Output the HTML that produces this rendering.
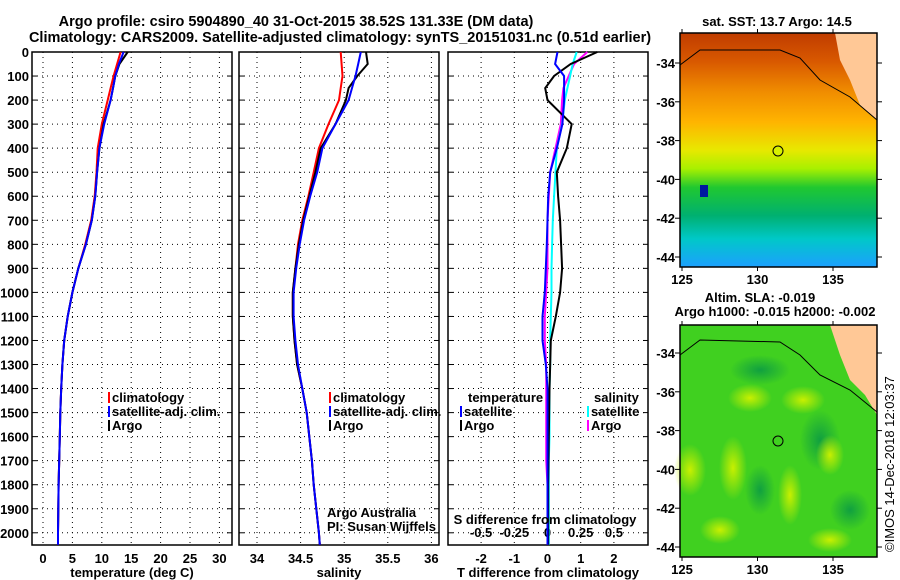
<!DOCTYPE html>
<html><head><meta charset="utf-8"><style>
body{margin:0;background:#fff;}
svg{display:block;font-family:"Liberation Sans",sans-serif;}
.b{font-weight:bold;font-size:13px;}
.t{font-weight:bold;font-size:14.5px;}
</style></head><body>
<svg id="c" width="900" height="580" viewBox="0 0 900 580" xmlns="http://www.w3.org/2000/svg">
<defs>
<linearGradient id="sst" x1="0" y1="0" x2="0" y2="1">
<stop offset="0" stop-color="#c03c00"/><stop offset="0.12" stop-color="#d85800"/><stop offset="0.25" stop-color="#f08c00"/><stop offset="0.38" stop-color="#ffb400"/><stop offset="0.5" stop-color="#e8e800"/><stop offset="0.58" stop-color="#a8f000"/><stop offset="0.66" stop-color="#20c830"/><stop offset="0.78" stop-color="#00b070"/><stop offset="0.88" stop-color="#00c8c8"/><stop offset="1" stop-color="#1ca0ff"/>
</linearGradient>
<radialGradient id="blob"><stop offset="0" stop-color="#c8f000"/><stop offset="1" stop-color="#c8f000" stop-opacity="0"/></radialGradient>
<radialGradient id="dblob"><stop offset="0" stop-color="#10a040"/><stop offset="1" stop-color="#10a040" stop-opacity="0"/></radialGradient>
</defs>
<g id="titles">
<text x="296" y="26" text-anchor="middle" class="t">Argo profile: csiro 5904890_40 31-Oct-2015 38.52S 131.33E (DM data)</text>
<text x="340" y="42" text-anchor="middle" class="t">Climatology: CARS2009. Satellite-adjusted climatology: synTS_20151031.nc (0.51d earlier)</text>
</g>
<g id="panels"></g>
<g id="maps">
<rect x="680" y="33" width="197" height="234" fill="url(#sst)"/>
<path d="M835,33 L877,33 L877,120 L860,105 L850,80 L840,60 Z" fill="#ffc896"/>
<path d="M865,95 L877,90 L877,110 L862,105 Z" fill="#ffc896"/>
<path d="M680,65 L700,50 L780,50 L800,58 L820,80 L850,97 L877,120" fill="none" stroke="#000" stroke-width="1"/>
<rect x="700" y="185" width="8" height="12" fill="#0018a0"/>
<circle cx="778" cy="151" r="5" fill="#d8f000" stroke="#000"/>
<rect x="680" y="325" width="197" height="232" fill="#40d020"/>
<ellipse cx="760" cy="370" rx="30" ry="15" fill="url(#dblob)"/><ellipse cx="820" cy="440" rx="20" ry="30" fill="url(#dblob)"/><ellipse cx="760" cy="490" rx="15" ry="25" fill="url(#dblob)"/><ellipse cx="850" cy="510" rx="20" ry="20" fill="url(#dblob)"/>
<ellipse cx="750" cy="398" rx="22" ry="14" fill="url(#blob)"/><ellipse cx="803" cy="400" rx="22" ry="14" fill="url(#blob)"/>
<ellipse cx="733" cy="468" rx="14" ry="32" fill="url(#blob)"/><ellipse cx="830" cy="455" rx="14" ry="20" fill="url(#blob)"/>
<ellipse cx="690" cy="470" rx="16" ry="26" fill="url(#blob)"/><ellipse cx="790" cy="495" rx="12" ry="30" fill="url(#blob)"/>
<ellipse cx="720" cy="530" rx="20" ry="14" fill="url(#blob)"/><ellipse cx="830" cy="540" rx="22" ry="12" fill="url(#blob)"/>
<path d="M830,325 L877,325 L877,415 L865,395 L850,380 L840,355 Z" fill="#ffc896"/>
<path d="M680,355 L700,340 L780,342 L800,355 L820,375 L850,390 L877,412" fill="none" stroke="#000"/>
<circle cx="778" cy="441" r="5" fill="none" stroke="#000"/>
<text x="777" y="26" text-anchor="middle" class="b">sat. SST: 13.7 Argo: 14.5</text>
<text x="760" y="302" text-anchor="middle" class="b">Altim. SLA: -0.019</text>
<text x="775" y="316" text-anchor="middle" class="b">Argo h1000: -0.015 h2000: -0.002</text>
<text transform="translate(894,552) rotate(-90)" font-size="13">©IMOS 14-Dec-2018 12:03:37</text>
</g>
</svg>
<script>
const depths=[0,50,100,150,200,300,400,500,600,700,800,900,1000,1100,1200,1300,1400,1500,1600,1700,1800,1900,2000,2050];
const tempArgo=[14.4,13.0,12.3,11.9,11.5,10.3,9.6,9.2,8.9,8.3,7.3,6.0,5.0,4.2,3.6,3.3,3.1,2.95,2.85,2.75,2.65,2.6,2.55,2.55];
const tempClim=[13.2,12.6,12.0,11.5,11.0,10.0,9.3,9.1,8.8,8.2,7.2,6.0,5.0,4.2,3.6,3.3,3.1,2.95,2.85,2.75,2.65,2.6,2.55,2.55];
const tempSat=[13.7,12.9,12.3,11.9,11.5,10.4,9.6,9.2,8.9,8.3,7.3,6.0,5.0,4.2,3.6,3.3,3.1,2.95,2.85,2.75,2.65,2.6,2.55,2.55];
const salArgo=[35.25,35.27,35.15,35.05,35.02,34.9,34.73,34.67,34.6,34.53,34.48,34.44,34.41,34.41,34.43,34.46,34.52,34.57,34.6,34.63,34.65,34.68,34.71,34.72];
const salClim=[34.96,34.97,34.98,34.96,34.94,34.82,34.71,34.65,34.59,34.52,34.47,34.44,34.41,34.41,34.43,34.46,34.52,34.57,34.6,34.63,34.65,34.68,34.71,34.72];
const salSat=[35.19,35.16,35.13,35.09,35.05,34.9,34.75,34.69,34.61,34.54,34.49,34.45,34.42,34.42,34.44,34.47,34.52,34.57,34.6,34.63,34.65,34.68,34.71,34.72];
const dTArgo=[1.5,0.7,0.2,-0.07,0.0,0.73,0.58,0.28,0.32,0.38,0.41,0.44,0.38,0.25,0.1,0.08,0.06,0.05,0.04,0.03,0.02,0.02,0.02,0.02];
const dTSat=[0.3,0.23,0.5,0.5,0.5,0.45,0.28,0.08,0.02,0.0,-0.02,-0.05,-0.08,-0.15,-0.15,-0.05,0,0,0,0,0,0,0,0];
const dSArgo=[0.3,0.2,0.16,0.12,0.11,0.1,0.06,0.02,0.01,0.0,0.0,0.0,-0.01,-0.02,-0.02,-0.01,-0.01,-0.01,-0.01,-0.01,0,0,0,0];
const dSSat=[0.22,0.19,0.17,0.15,0.13,0.11,0.07,0.06,0.05,0.04,0.035,0.03,0.03,0.025,0.02,0.02,0.015,0.015,0.015,0.01,0.01,0.01,0.01,0.01];
const depthTicks=[0,100,200,300,400,500,600,700,800,900,1000,1100,1200,1300,1400,1500,1600,1700,1800,1900,2000];
const tempTicks=[0,5,10,15,20,25,30];
const salTicks=[34,34.5,35,35.5,36];
const dTTicks=[-2,-1,0,1,2];
const dSTicks=["-0.5","-0.25","0","0.25","0.5"];
const latTicks=[-34,-36,-38,-40,-42,-44];
const lonTicks=[125,130,135];

const NS='http://www.w3.org/2000/svg';
const svg=document.getElementById('c');
const G=document.getElementById('panels');
function el(t,a,p){const e=document.createElementNS(NS,t);for(const k in a)e.setAttribute(k,a[k]);(p||G).appendChild(e);return e;}
const Y0=52,PY=0.2404,YB=545;
const yD=d=>Y0+d*PY;
const xT=v=>43+v*5.88;
const xS=v=>257+(v-34)*87.2;
const xDT=v=>547.5+v*33.2;
const xDS=v=>547.5+v*132.8;

function frame(x0,x1,name){
  const r=el('rect',{x:x0,y:Y0,width:x1-x0,height:YB-Y0,fill:'none',stroke:'#000','stroke-width':1.5});
  
  
  depthTicks.forEach(d=>{
    el('line',{x1:x0,x2:x1,y1:yD(d),y2:yD(d),stroke:'#000','stroke-dasharray':'1 4'});
    el('line',{x1:x0,x2:x0+5,y1:yD(d),y2:yD(d),stroke:'#000'});
    el('line',{x1:x1-5,x2:x1,y1:yD(d),y2:yD(d),stroke:'#000'});
  });
}
function vgrid(ticks,fx,labels,ly,name){
  ticks.forEach((t,i)=>{
    const x=fx(t);
    el('line',{x1:x,x2:x,y1:Y0,y2:YB,stroke:'#000','stroke-dasharray':'1 4'});
    if(ly){const tx=el('text',{x:x,y:ly,'text-anchor':'middle',class:'b'});tx.textContent=labels[i];
      
      }
  });
}
function line(vals,fx,color,name){
  const pts=vals.map((v,i)=>fx(v).toFixed(1)+','+yD(depths[i]).toFixed(1)).join(' ');
  const p=el('polyline',{points:pts,fill:'none',stroke:color,'stroke-width':2});
  
  
}
function txt(x,y,s,name,cls,anchor){const t=el('text',{x:x,y:y,class:cls||'b','text-anchor':anchor||'start'});t.textContent=s;
  
  return t;}
function leg(x,y,c,s,name){el('rect',{x:x,y:y-10,width:2,height:11,fill:c});txt(x+4,y,s,name);}

frame(32,232,'temperature-panel');
vgrid(tempTicks,xT,tempTicks,563,'temperature-tick');
depthTicks.forEach(d=>{txt(29,yD(d)+5,d,'depth-tick','b','end');});
line(tempClim,xT,'#ff0000','temp-climatology-line');
line(tempArgo,xT,'#000','temp-argo-line');
line(tempSat,xT,'#0000ff','temp-satellite-line');
txt(132,577,'temperature (deg C)','temperature-axis-title','b','middle');
leg(108,402,'#ff0000','climatology','legend-climatology');
leg(108,416,'#0000ff','satellite-adj. clim.','legend-satellite');
leg(108,430,'#000','Argo','legend-argo');

frame(239,439,'salinity-panel');
vgrid(salTicks,xS,salTicks,563,'salinity-tick');
line(salClim,xS,'#ff0000','sal-climatology-line');
line(salArgo,xS,'#000','sal-argo-line');
line(salSat,xS,'#0000ff','sal-satellite-line');
txt(339,577,'salinity','salinity-axis-title','b','middle');
leg(329,402,'#ff0000','climatology','legend-climatology-2');
leg(329,416,'#0000ff','satellite-adj. clim.','legend-satellite-2');
leg(329,430,'#000','Argo','legend-argo-2');
const a1=txt(327,517,'Argo Australia','argo-australia-credit','');a1.setAttribute('font-size','13');
const a2=txt(327,531,'PI: Susan Wijffels','pi-credit','');a2.setAttribute('font-size','13');

frame(448,648,'difference-panel');
vgrid(dTTicks,xDT,dTTicks,563,'t-diff-tick');
dSTicks.forEach(s=>{txt(xDS(parseFloat(s)),537,s,'s-diff-tick','b','middle');});
line(dSArgo,xDS,'#ff00ff','s-argo-diff-line');
line(dSSat,xDS,'#00ffff','s-satellite-diff-line');
line(dTArgo,xDT,'#000','t-argo-diff-line');
line(dTSat,xDT,'#0000ff','t-satellite-diff-line');
txt(548,577,'T difference from climatology','t-diff-axis-title','b','middle');
txt(545,524,'S difference from climatology','s-diff-axis-title','b','middle');
txt(468,402,'temperature','legend-temperature-header');
leg(460,416,'#0000ff','satellite','legend-t-satellite');
leg(460,430,'#000','Argo','legend-t-argo');
txt(594,402,'salinity','legend-salinity-header');
leg(587,416,'#00ffff','satellite','legend-s-satellite');
leg(587,430,'#ff00ff','Argo','legend-s-argo');

const M=document.getElementById('maps');
function mapAxes(y0,y1,latY,name){
  const r=el('rect',{x:680,y:y0,width:197,height:y1-y0,fill:'none',stroke:'#000','stroke-width':1.5},M);
  
  
  latTicks.forEach(l=>{const y=latY(l);
    el('line',{x1:877,x2:882,y1:y,y2:y,stroke:'#000'},M);
    el('line',{x1:675,x2:680,y1:y,y2:y,stroke:'#000'},M);
    const t=el('text',{x:675,y:y+5,class:'b','text-anchor':'end'},M);t.textContent=l;
    
    });
  lonTicks.forEach(l=>{const x=682+(l-125)*15.1;el('line',{x1:x,x2:x,y1:y1,y2:y1+4,stroke:'#000'},M);el('line',{x1:x,x2:x,y1:y0,y2:y0-4,stroke:'#000'},M);
    const t=el('text',{x:x,y:y1+17,class:'b','text-anchor':'middle'},M);t.textContent=l;
    
    });
}
mapAxes(33,267,l=>63+(-34-l)*19.4,'sst-map-frame');
mapAxes(325,557,l=>353+(-34-l)*19.4,'sla-map-frame');
</script>
</body></html>
